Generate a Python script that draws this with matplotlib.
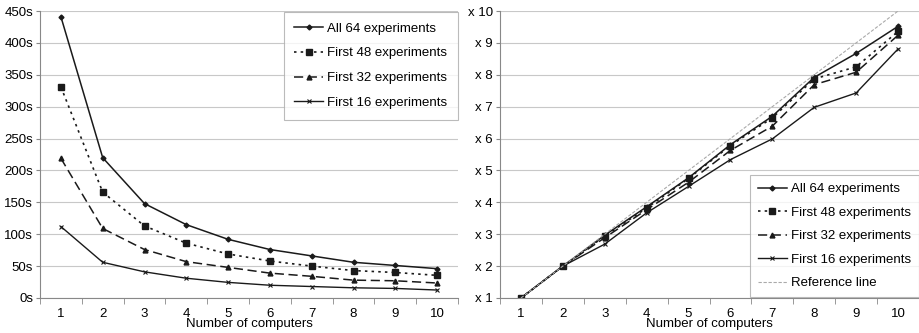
import matplotlib.pyplot as plt

plt.rcParams['font.family'] = ['Liberation Sans', 'DejaVu Sans']

computers = [1, 2, 3, 4, 5, 6, 7, 8, 9, 10]
labels = ["All 64 experiments", "First 48 experiments",
          "First 32 experiments", "First 16 experiments"]

# temps (s)
time_64 = [441, 220, 148, 115, 92, 76, 66, 56, 51, 46]
time_48 = [331, 166, 113, 86, 69, 58, 50, 43, 40, 35.5]
time_32 = [219, 109, 76, 57, 48, 39, 34, 28, 27, 23.5]
time_16 = [112, 56, 41, 31, 24.5, 20, 18, 16, 15, 12.5]

# speedup
speed_64 = [1, 2, 2.97, 3.86, 4.77, 5.81, 6.70, 7.92, 8.67, 9.52]
speed_48 = [1, 2, 2.94, 3.82, 4.75, 5.78, 6.65, 7.87, 8.25, 9.36]
speed_32 = [1, 2, 2.89, 3.77, 4.63, 5.63, 6.39, 7.69, 8.08, 9.24]
speed_16 = [1, 2, 2.69, 3.67, 4.50, 5.34, 5.99, 6.98, 7.43, 8.81]
reference = [1, 2, 3, 4, 5, 6, 7, 8, 9, 10]

styles = [
    dict(ls='-', marker='D', ms=2.5, lw=1.1),
    dict(ls=(0, (1.5, 2.5)), marker='s', ms=3.8, lw=1.2),
    dict(ls=(0, (6, 3)), marker='^', ms=3.5, lw=1.1),
    dict(ls='-', marker='x', ms=3.5, lw=1.0, mew=0.8),
]
col = '#1a1a1a'

fig = plt.figure(figsize=(9.2, 3.33), dpi=100)
ax1 = fig.add_axes([40 / 920, 35 / 333, 418 / 920, 287 / 333])
ax2 = fig.add_axes([500 / 920, 35 / 333, 419 / 920, 287 / 333])


def style_axes(ax):
    ax.set_xlim(0.5, 10.5)
    ax.set_xticks(computers)
    ax.set_xticks([i + 0.5 for i in range(0, 11)], minor=True)
    ax.tick_params(axis='x', which='major', length=0, labelsize=9.5, pad=7)
    ax.tick_params(axis='x', which='minor', length=4, color='#888888', direction='out')
    ax.tick_params(axis='y', length=3, color='#888888', labelsize=9.5, pad=2)
    ax.grid(axis='y', color='#c8c8c8', lw=0.8)
    ax.set_axisbelow(True)
    for s in ['top', 'right']:
        ax.spines[s].set_visible(False)
    for s in ['left', 'bottom']:
        ax.spines[s].set_color('#888888')
        ax.spines[s].set_linewidth(0.8)
    ax.set_xlabel("Number of computers", fontsize=9.5, labelpad=-1)


series1 = [time_64, time_48, time_32, time_16]
for vals, st, lab in zip(series1, styles, labels):
    ax1.plot(computers, vals, color=col, label=lab, **st)
style_axes(ax1)
ax1.set_ylim(0, 450)
ax1.set_yticks(range(0, 451, 50))
ax1.set_yticklabels([f"{v}s" for v in range(0, 451, 50)])
leg1 = ax1.legend(loc='upper right', fontsize=9.5, frameon=True, fancybox=False,
                  edgecolor='#aaaaaa', handlelength=2.2, labelspacing=0.95,
                  borderaxespad=0, borderpad=0.8, handletextpad=0.3,
                  bbox_to_anchor=(1.0, 0.997))
leg1.get_frame().set_linewidth(0.8)

series2 = [speed_64, speed_48, speed_32, speed_16]
for vals, st, lab in zip(series2, styles, labels):
    ax2.plot(computers, vals, color=col, label=lab, **st)
ax2.plot(computers, reference, color='#aaaaaa', ls=(0, (3, 1.5)), lw=0.8,
         label="Reference line")
style_axes(ax2)
ax2.set_ylim(1, 10)
ax2.set_yticks(range(1, 11))
ax2.set_yticklabels([f"x {v}" for v in range(1, 11)])
leg2 = ax2.legend(loc='lower right', fontsize=9.5, frameon=True, fancybox=False,
                  edgecolor='#aaaaaa', handlelength=2.2, labelspacing=0.85,
                  borderaxespad=0, borderpad=0.6, handletextpad=0.3,
                  bbox_to_anchor=(1.0, 0.003))
leg2.get_frame().set_linewidth(0.8)

fig.savefig("out.png", dpi=100)
